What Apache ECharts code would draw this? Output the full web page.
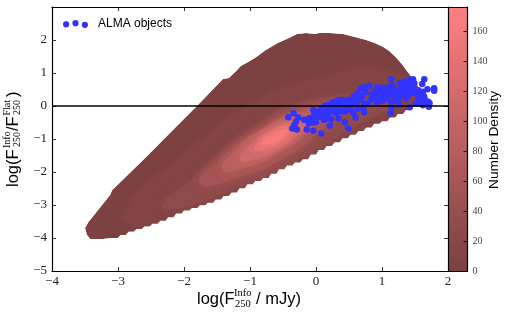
<!DOCTYPE html>
<html><head><meta charset="utf-8">
<style>html,body{margin:0;padding:0;background:#fff}#c{width:511px;height:318px}</style>
<script src="https://cdn.jsdelivr.net/npm/echarts@6/dist/echarts.min.js"></script>
</head><body><div id="c"></div>
<script>
// Density outline and iso-density contours: [log F250, log ratio]
const densityLevels = [4, 12, 28, 55, 85, 115, 140, 165];
const contour4 = [
[-3.23,-4.03],[-3.08,-4.00],[-3.00,-4.00],[-2.96,-3.91],[-2.88,-3.91],[-2.84,-3.81],[-2.76,-3.81],[-2.72,-3.73],[-2.64,-3.73],[-2.60,-3.65],[-2.52,-3.65],[-2.48,-3.57],[-2.40,-3.57],[-2.36,-3.48],[-2.28,-3.48],[-2.24,-3.37],[-2.16,-3.37],[-2.12,-3.26],[-2.04,-3.26],[-2.00,-3.17],[-1.92,-3.17],[-1.88,-3.09],[-1.80,-3.09],[-1.76,-3.01],[-1.68,-3.01],[-1.64,-2.93],[-1.56,-2.93],[-1.52,-2.83],[-1.44,-2.83],[-1.40,-2.73],[-1.32,-2.73],[-1.28,-2.62],[-1.20,-2.62],[-1.16,-2.49],[-1.08,-2.49],[-1.04,-2.37],[-0.96,-2.37],[-0.92,-2.27],[-0.84,-2.27],[-0.80,-2.18],[-0.72,-2.18],[-0.68,-2.05],[-0.60,-2.05],[-0.56,-1.92],[-0.48,-1.92],[-0.44,-1.80],[-0.36,-1.80],[-0.32,-1.71],[-0.24,-1.71],[-0.20,-1.61],[-0.12,-1.61],[-0.08,-1.47],[0.00,-1.47],[0.04,-1.33],[0.12,-1.33],[0.16,-1.21],[0.24,-1.21],[0.28,-1.10],[0.36,-1.10],[0.40,-0.98],[0.48,-0.98],[0.52,-0.87],[0.60,-0.87],[0.64,-0.76],[0.72,-0.76],[0.76,-0.65],[0.84,-0.65],[0.88,-0.54],[0.96,-0.54],[1.00,-0.46],[1.08,-0.46],[1.12,-0.35],[1.20,-0.35],[1.24,-0.24],[1.32,-0.24],[1.36,-0.13],[1.44,-0.13],[1.48,-0.02],[1.56,-0.02],[1.60,0.05],[1.67,0.09],
[1.71,0.18],[1.65,0.42],[1.56,0.55],[1.47,0.82],[1.39,1.03],[1.30,1.27],[1.21,1.48],[1.11,1.67],[1.02,1.79],[0.89,1.91],[0.76,2.0],[0.59,2.09],[0.41,2.18],[0.21,2.21],[0.05,2.21],[-0.02,2.18],[-0.15,2.21],[-0.29,2.18],[-0.41,2.06],[-0.58,1.91],[-0.76,1.70],[-0.91,1.48],[-1.03,1.33],[-1.14,1.21],[-1.21,1.06],[-1.32,0.85],[-1.41,0.82],[-1.76,0.09],[-2.62,-1.64],[-3.09,-2.55],[-3.12,-2.70],[-3.45,-3.52],[-3.50,-3.70],[-3.47,-3.91],[-3.42,-4.03]];
const contour12 = [[1.50,0.24],[0.44,-1.1],[-0.24,-1.9],[-1.08,-2.6],[-1.91,-3.2],[-2.70,-3.65],[-2.90,-3.20],[-1.91,-1.33],[-1.0,0.03],[0.06,0.85],[1.12,1.03]];
const contour28 = [[1.20,0.18],[0.44,-0.78],[-0.24,-1.62],[-1.08,-2.42],[-2.30,-3.10],[-1.76,-2.0],[-1.0,-0.73],[-0.09,0.18]];
const contour55 = [[0.44,0.03],[0.09,-0.74],[-0.52,-1.62],[-1.20,-2.18],[-1.76,-2.35],[-1.41,-1.53],[-0.80,-0.66],[-0.12,-0.03]];
const contour85 = [[0.09,-0.12],[-0.13,-0.77],[-0.56,-1.40],[-1.04,-1.84],[-1.42,-1.94],[-1.20,-1.29],[-0.77,-0.66],[-0.29,-0.22]];
const contour115 = [[-0.12,-0.42],[-0.27,-0.87],[-0.56,-1.29],[-0.89,-1.59],[-1.15,-1.64],[-1.0,-1.19],[-0.71,-0.77],[-0.38,-0.47]];
const contour140 = [[-0.30,-0.58],[-0.39,-0.87],[-0.57,-1.14],[-0.77,-1.31],[-0.94,-1.33],[-0.85,-1.04],[-0.67,-0.77],[-0.47,-0.60]];
const contour165 = [[-0.42,-0.73],[-0.48,-0.90],[-0.59,-1.06],[-0.72,-1.17],[-0.82,-1.18],[-0.76,-1.01],[-0.65,-0.85],[-0.53,-0.74]];
const contours = [contour4, contour12, contour28, contour55, contour85, contour115, contour140, contour165];

const almaObjects = [[-0.42,-0.34],[-0.34,-0.22],[-0.27,-0.34],[-0.30,-0.47],[-0.33,-0.58],[-0.36,-0.68],[-0.29,-0.71],[-0.14,-0.71],[-0.04,-0.75],[0.08,-0.83],[-0.18,-0.42],[-0.10,-0.37],[-0.06,-0.51],[-0.11,-0.53],[0.0,-0.49],[-0.04,-0.12],[0.05,-0.22],[0.10,-0.32],[0.23,-0.40],[0.21,-0.59],[0.34,-0.37],[0.44,-0.49],[0.49,-0.68],[0.60,-0.35],[0.56,-0.20],[0.63,-0.09],[0.73,-0.19],[0.73,0.08],[0.78,0.06],[0.71,-0.07],
[-0.03,-0.27],[0.03,-0.17],[0.08,-0.07],[0.13,0.0],[0.18,0.03],[0.25,0.10],[0.30,0.13],[0.35,0.18],[0.40,0.18],[0.48,0.18],[0.56,0.23],[0.58,0.30],[0.63,0.38],[0.68,0.54],[0.73,0.57],[0.81,0.61],[0.61,0.08],[0.45,-0.02],[0.38,-0.17],[0.30,-0.22],[0.23,-0.17],[0.18,-0.27],[0.10,-0.17],[0.28,-0.02],[0.35,-0.07],[0.43,-0.17],[0.53,-0.02],
[0.83,0.20],[0.88,0.23],[0.93,0.57],[0.90,0.43],[0.91,0.33],[0.96,0.28],[1.04,0.48],[1.06,0.33],[1.06,0.23],[1.14,0.81],[1.11,0.57],[1.16,0.61],[1.19,0.48],[1.14,0.33],[1.14,0.13],[1.14,-0.05],[1.13,-0.22],[1.21,0.23],[1.24,0.13],[1.26,0.03],[1.27,0.69],[1.29,0.54],[1.31,0.38],[1.36,0.23],[1.34,0.74],[1.39,0.76],[1.44,0.79],[1.47,0.81],[1.49,0.69],[1.41,0.64],[1.36,0.54],[1.46,0.51],[1.52,0.38],[1.42,-0.04],[1.52,0.08],[1.59,0.08],[1.64,0.81],[1.61,0.67],[1.69,0.51],[1.79,0.54],[1.79,0.46],[1.62,0.43],[1.64,0.28],[1.59,0.18],[1.70,0.13],[1.72,0.08],[1.71,-0.02],
[0.0,-0.2],[0.06,-0.3],[0.14,-0.12],[0.2,-0.08],[0.15,-0.2],[0.27,-0.12],[0.33,0.02],[0.38,0.06],[0.42,0.1],[0.5,0.08],[0.55,0.1],[0.48,-0.1],[0.58,0.12],[0.66,0.2],[0.7,0.3],[0.62,0.22],[0.75,0.42],[0.85,0.35],[0.95,0.45],[1.0,0.35],[1.02,0.55],[1.1,0.4],[1.08,0.48],[1.2,0.35],[1.25,0.45],[1.3,0.62],[1.38,0.42],[1.42,0.5],[1.35,0.66],[1.45,0.7],[1.4,0.32],[1.47,0.4],[1.25,0.28],[1.55,0.3],[1.55,0.48],[1.65,0.12],[1.62,0.02],[0.92,0.12],[1.0,0.15],[0.02,-0.35],[-0.02,-0.42],[0.12,-0.42],[0.16,-0.38],[-0.08,-0.45]];
const zeroLine = [[-4,0],[2,0]];
const barMax = 176;
const xRange = [-4, 2], yRange = [-5, 3];

const low = [122,64,64], high = [255,128,128];
const shade = v => { const t = v / barMax; return 'rgb(' + low.map((c,i)=>Math.round(c+(high[i]-c)*t)).join(',') + ')'; };
const serif = '"Liberation Serif"', sans = '"Liberation Sans"';
const minus = v => String(v).replace('-', '\u2212');

// Everything outside the outline: the plot frame, then a cut into the outline walked the other way round.
const outsideMask = [[xRange[0],yRange[0]],[xRange[1],yRange[0]],[xRange[1],yRange[1]],[xRange[0],yRange[1]],[xRange[0],yRange[0]],
  contour4[0], ...contour4.slice().reverse()];

const part = (text, x, y, size, family, rot) => ({type:'text', x, y, rotation: rot ? Math.PI/2 : 0, silent:true,
  style:{text, fontSize:size, fontFamily:family, fill:'#000', textAlign:'left', textVerticalAlign:'middle'}});

const chart = echarts.init(document.getElementById('c'), null, {renderer:'canvas'});
const mainAxisLine = {show:true, onZero:false, lineStyle:{color:'#000', width:1.2}};
const tick = {show:true, inside:true, length:4, lineStyle:{color:'#000', width:0.8}};
chart.setOption({
  animation:false,
  backgroundColor:'#fff',
  grid:[{left:52, right:63, top:7, bottom:47},{left:448, width:19.5, top:7, bottom:47}],
  legend:{data:[{name:'ALMA objects', icon:'path://M0 4a3 3 0 1 0 6 0a3 3 0 1 0 -6 0ZM9 3a3 3 0 1 0 6 0a3 3 0 1 0 -6 0ZM18 4.5a3 3 0 1 0 6 0a3 3 0 1 0 -6 0Z'}],
    left:58, top:13, itemWidth:25, itemHeight:8, textStyle:{fontFamily:sans, fontSize:12, color:'#000', padding:[0,0,0,5]}},
  xAxis:[
    {gridIndex:0, z:5, type:'value', min:xRange[0], max:xRange[1], interval:1, position:'bottom', axisLine:mainAxisLine, axisTick:tick, splitLine:{show:false},
      axisLabel:{fontFamily:serif, fontSize:13, color:'#222', margin:4, formatter:minus, showMinLabel:true, showMaxLabel:true}},
    {gridIndex:0, z:5, type:'value', min:xRange[0], max:xRange[1], interval:1, position:'top', axisLine:mainAxisLine, axisTick:tick, splitLine:{show:false}, axisLabel:{show:false}},
    {gridIndex:1, z:5, type:'category', data:[''], position:'bottom', axisLine:mainAxisLine, axisTick:{show:false}, axisLabel:{show:false}},
    {gridIndex:1, z:5, type:'category', data:[''], position:'top', axisLine:mainAxisLine, axisTick:{show:false}, axisLabel:{show:false}}
  ],
  yAxis:[
    {gridIndex:0, z:5, type:'value', min:yRange[0], max:yRange[1], interval:1, position:'left', axisLine:mainAxisLine, axisTick:tick, splitLine:{show:false},
      axisLabel:{fontFamily:serif, fontSize:13, color:'#222', margin:5, formatter:v => v === 3 ? '' : minus(v), showMinLabel:true, showMaxLabel:true}},
    {gridIndex:0, z:5, type:'value', min:yRange[0], max:yRange[1], interval:1, position:'right', axisLine:mainAxisLine, axisTick:tick, splitLine:{show:false}, axisLabel:{show:false}},
    {gridIndex:1, z:5, type:'value', min:0, max:barMax, interval:20, position:'right', axisLine:mainAxisLine, axisTick:tick, splitLine:{show:false},
      axisLabel:{fontFamily:serif, fontSize:10, color:'#444', margin:5, showMaxLabel:false}}
  ],
  series:[
    {type:'custom', name:'density', xAxisIndex:0, yAxisIndex:0, clip:true, z:1, silent:true,
      data:[...densityLevels.map(v=>[v]), [0]],
      renderItem:(p, api) => {
        const i = p.dataIndex;
        if (i === densityLevels.length)
          return {type:'polygon', shape:{points:outsideMask.map(c=>api.coord(c))}, style:{fill:'#fff'}};
        const col = shade(densityLevels[i]);
        return {type:'polygon', shape:{points:contours[i].map(c=>api.coord(c)), smooth: i===0 ? 0 : 0.6},
          style:{fill:col, shadowColor: i===0 ? 'transparent' : col, shadowBlur: i===0 ? 0 : 10}};
      }},
    {type:'scatter', name:'ALMA objects', xAxisIndex:0, yAxisIndex:0, data:almaObjects, symbol:'circle', symbolSize:6.5, z:3,
      itemStyle:{color:'#3333ff', opacity:1}},
    {type:'line', name:'zero', xAxisIndex:0, yAxisIndex:0, data:zeroLine, symbol:'none', z:4, silent:true, lineStyle:{color:'#000', width:1.4}},
    {type:'bar', name:'colorbar', xAxisIndex:2, yAxisIndex:2, data:[barMax], barWidth:'100%', silent:true,
      itemStyle:{color:new echarts.graphic.LinearGradient(0,1,0,0,[{offset:0,color:shade(0)},{offset:1,color:shade(barMax)}])}}
  ],
  graphic:[
    part('log(F', 197, 299, 16.5, sans), part('Info', 234, 293, 10.5, serif), part('250', 235, 304, 10.5, serif), part('/ mJy)', 256, 299, 16.5, sans),
    part('log(F', 13, 187, 16.5, sans, true), part('Info', 7, 148, 10, serif, true), part('250', 17, 147, 10, serif, true),
    part('/F', 13, 131, 16.5, sans, true), part('Flat', 7, 115.5, 10, serif, true), part('250', 17, 115, 10, serif, true), part(')', 13, 97, 16.5, sans, true),
    part('Number Density', 494, 189, 13.7, sans, true)
  ]
});
</script></body></html>
